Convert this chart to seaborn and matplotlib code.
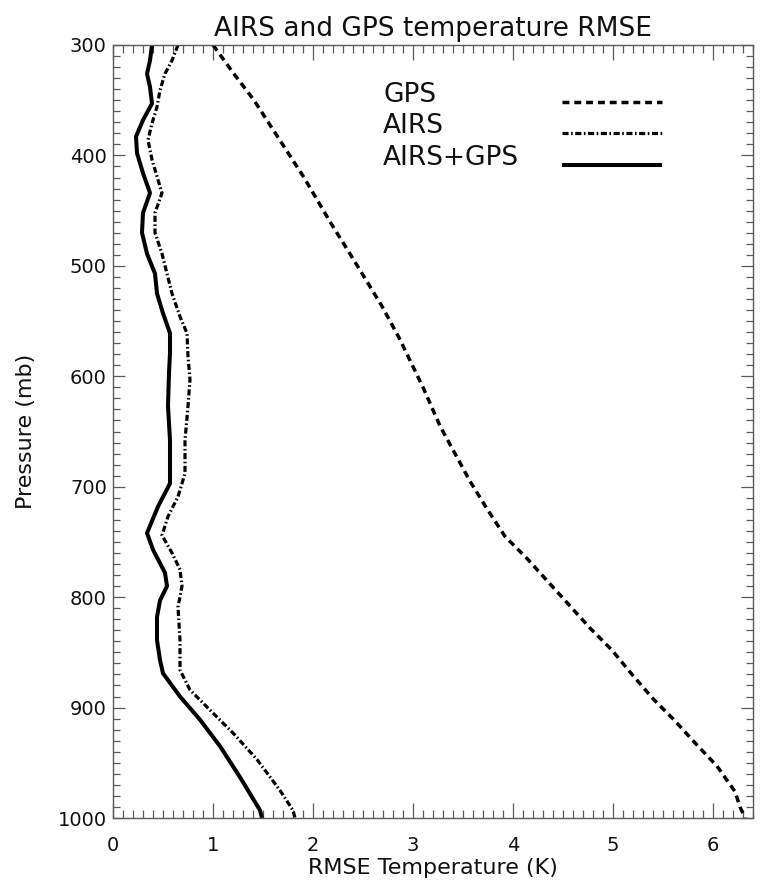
import matplotlib
matplotlib.use("Agg")
import matplotlib.pyplot as plt
from matplotlib.ticker import MultipleLocator
import seaborn as sns

# Temperature RMSE profiles (K) against pressure level (mb)
gps_p = [300, 325, 350, 385, 420, 460, 495, 535, 565, 610, 645, 670, 695, 720,
         745, 765, 785, 805, 828, 848, 870, 892, 912, 932, 953, 976, 990, 1000]
gps_rmse = [1.00, 1.20, 1.41, 1.66, 1.91, 2.17, 2.41, 2.68, 2.86, 3.10, 3.27, 3.42,
            3.57, 3.74, 3.92, 4.14, 4.34, 4.54, 4.77, 4.99, 5.19, 5.40, 5.62, 5.82,
            6.04, 6.22, 6.27, 6.32]

airs_p = [300, 314, 326, 341, 356, 371, 386, 404, 419, 434, 452, 470, 489, 507, 525,
          546, 561, 582, 603, 627, 658, 688, 709, 727, 744, 760, 775, 790, 809, 839,
          866, 884, 905, 923, 947, 975, 993, 1000]
airs_rmse = [0.65, 0.59, 0.52, 0.47, 0.44, 0.39, 0.35, 0.39, 0.44, 0.49, 0.42, 0.42,
             0.49, 0.54, 0.59, 0.67, 0.74, 0.75, 0.77, 0.75, 0.72, 0.72, 0.65, 0.55,
             0.49, 0.59, 0.67, 0.69, 0.65, 0.67, 0.67, 0.77, 1.00, 1.20, 1.44, 1.67,
             1.80, 1.82]

comb_p = [300, 314, 326, 338, 353, 368, 383, 398, 416, 434, 452, 470, 489, 507, 525,
          543, 561, 579, 597, 627, 658, 697, 718, 742, 757, 778, 790, 803, 818, 839,
          857, 869, 890, 911, 935, 963, 993, 1000]
comb_rmse = [0.39, 0.37, 0.34, 0.37, 0.39, 0.30, 0.23, 0.24, 0.30, 0.37, 0.30, 0.29,
             0.34, 0.42, 0.44, 0.50, 0.57, 0.57, 0.56, 0.55, 0.57, 0.57, 0.45, 0.34,
             0.40, 0.52, 0.54, 0.47, 0.44, 0.44, 0.47, 0.50, 0.67, 0.87, 1.07, 1.27,
             1.47, 1.49]

series_names = ["GPS", "AIRS", "AIRS+GPS"]

x_ticks = [0, 1, 2, 3, 4, 5, 6]
p_ticks = [300, 400, 500, 600, 700, 800, 900, 1000]

sns.set_style("ticks")
plt.rcParams["font.family"] = ["DejaVu Sans"]

fig = plt.figure(figsize=(7.61, 8.82), dpi=100)
ax = fig.add_axes([113 / 761, 1 - 818 / 882, 640 / 761, 773 / 882])

profiles = [
    (gps_rmse, gps_p, 2.5, (2.0, 1.4)),
    (airs_rmse, airs_p, 2.3, (1.9, 0.8, 0.5, 0.8)),
    (comb_rmse, comb_p, 2.9, None),
]
handles = []
for rmse, p, lw, dash in profiles:
    sns.lineplot(x=rmse, y=p, ax=ax, sort=False, estimator=None,
                 color="black", linewidth=lw)
    line = ax.lines[-1]
    if dash is not None:
        line.set_dashes(dash)
    line.set_solid_capstyle("butt")
    handles.append(line)

ax.set_xlim(0, 6.4)
ax.set_ylim(1000, 300)
ax.set_xticks(x_ticks)
ax.set_yticks(p_ticks)
ax.xaxis.set_minor_locator(MultipleLocator(0.1))
ax.yaxis.set_minor_locator(MultipleLocator(10))

edge = "#5a5a5a"
for s in ax.spines.values():
    s.set_color(edge)
    s.set_linewidth(1.0)
ax.tick_params(axis="both", which="both", direction="in", top=True, right=True,
               color=edge, width=0.9, labelsize=14, labelcolor="#111111")
ax.tick_params(axis="x", which="major", length=10.5, pad=13)
ax.tick_params(axis="x", which="minor", length=5.5)
ax.tick_params(axis="y", which="major", length=8.5, pad=4.5)
ax.tick_params(axis="y", which="minor", length=5)

ax.set_xlabel("RMSE Temperature (K)", fontsize=16, color="#111111")
ax.set_ylabel("Pressure (mb)", fontsize=16, color="#111111")
ax.xaxis.set_label_coords(0.5, -0.0517)
ax.yaxis.set_label_coords(-0.120, 0.5)
ax.set_title("AIRS and GPS temperature RMSE", fontsize=19, pad=6.5, color="#111111")

# Legend: names in a left-aligned column, line samples in a column to the right
leg_names = ax.legend(handles, series_names, loc="upper left",
                      bbox_to_anchor=(0.422, 0.952), frameon=False, fontsize=19,
                      handlelength=0, handletextpad=0, borderpad=0,
                      borderaxespad=0, labelspacing=0.2)
for h in leg_names.legend_handles:
    h.set_visible(False)
for t in leg_names.get_texts():
    t.set_color("#111111")
ax.add_artist(leg_names)
ax.legend(handles, [" "] * 3, loc="upper left", bbox_to_anchor=(0.7016, 0.940),
          frameon=False, fontsize=19, handlelength=3.8, handletextpad=0,
          borderpad=0, borderaxespad=0, labelspacing=0.2)

fig.savefig("out.png", dpi=100, facecolor="white")
